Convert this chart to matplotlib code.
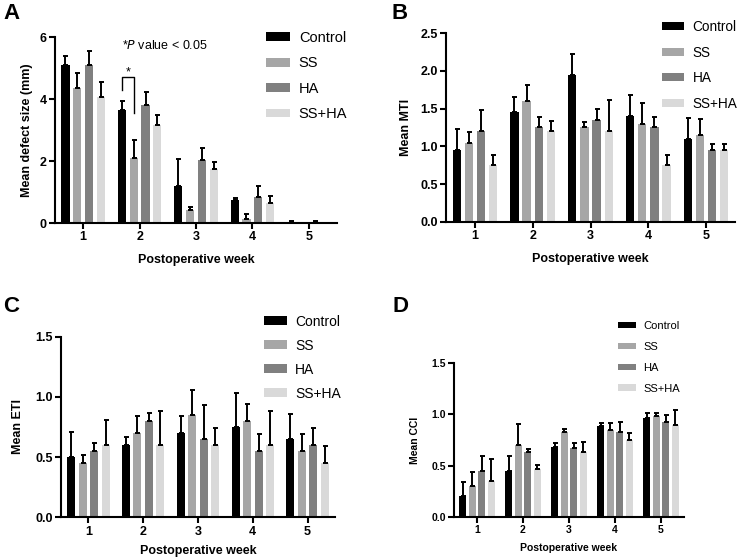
import matplotlib
matplotlib.use("Agg")
import matplotlib.pyplot as plt
import numpy as np
from matplotlib.patches import Patch

plt.rcParams['font.family'] = ['Liberation Sans', 'DejaVu Sans']

weeks = [1, 2, 3, 4, 5]
groups = ["Control", "SS", "HA", "SS+HA"]
colors = ["#000000", "#a6a6a6", "#808080", "#d9d9d9"]

# Panel A: mean defect size (mm) and SD (upper error)
a_mean = {"Control": [5.1, 3.65, 1.2, 0.73, 0.03],
          "SS": [4.35, 2.1, 0.42, 0.13, 0.0],
          "HA": [5.1, 3.8, 2.03, 0.83, 0.03],
          "SS+HA": [4.05, 3.15, 1.74, 0.64, 0.0]}
a_err = {"Control": [0.3, 0.3, 0.85, 0.08, 0.05],
         "SS": [0.5, 0.58, 0.1, 0.15, 0.0],
         "HA": [0.46, 0.44, 0.38, 0.37, 0.05],
         "SS+HA": [0.5, 0.35, 0.23, 0.22, 0.0]}

# Panel B: mean MTI
b_mean = {"Control": [0.95, 1.45, 1.95, 1.4, 1.1],
          "SS": [1.05, 1.6, 1.25, 1.3, 1.15],
          "HA": [1.2, 1.25, 1.35, 1.25, 0.95],
          "SS+HA": [0.75, 1.2, 1.2, 0.75, 0.95]}
b_err = {"Control": [0.28, 0.21, 0.28, 0.28, 0.28],
         "SS": [0.14, 0.21, 0.07, 0.28, 0.21],
         "HA": [0.28, 0.14, 0.14, 0.14, 0.08],
         "SS+HA": [0.14, 0.14, 0.42, 0.14, 0.08]}

# Panel C: mean ETI
c_mean = {"Control": [0.5, 0.6, 0.7, 0.75, 0.65],
          "SS": [0.45, 0.7, 0.85, 0.8, 0.55],
          "HA": [0.55, 0.8, 0.65, 0.55, 0.6],
          "SS+HA": [0.6, 0.6, 0.6, 0.6, 0.45]}
c_err = {"Control": [0.21, 0.07, 0.14, 0.28, 0.21],
         "SS": [0.07, 0.14, 0.21, 0.14, 0.14],
         "HA": [0.07, 0.07, 0.28, 0.14, 0.14],
         "SS+HA": [0.21, 0.28, 0.14, 0.28, 0.14]}

# Panel D: mean CCI
d_mean = {"Control": [0.2, 0.45, 0.68, 0.89, 0.97],
          "SS": [0.3, 0.7, 0.83, 0.85, 0.98],
          "HA": [0.45, 0.63, 0.67, 0.83, 0.93],
          "SS+HA": [0.35, 0.47, 0.63, 0.75, 0.9]}
d_err = {"Control": [0.14, 0.14, 0.04, 0.03, 0.04],
         "SS": [0.14, 0.21, 0.03, 0.07, 0.03],
         "HA": [0.14, 0.03, 0.05, 0.1, 0.06],
         "SS+HA": [0.21, 0.04, 0.1, 0.07, 0.14]}

W, H = 738, 559
fig = plt.figure(figsize=(W / 100, H / 100), dpi=100)

SPACING = 0.21
BARW = 0.145


def px_axes(l, r, b, t):
    return fig.add_axes([l / W, 1 - b / H, (r - l) / W, (b - t) / H])


def panel(ax, means, errs, ylim, yticks, ylabel, tick_fs, lab_fs, leg_fs,
          leg_xy, leg_sp, xpad=8, ypad=8):
    x = np.array(weeks, dtype=float)
    for i, g in enumerate(groups):
        xs = x + (i - 1.5) * SPACING
        m = np.array(means[g])
        e = np.array(errs[g])
        ax.bar(xs, m, width=BARW, color=colors[i], zorder=2)
        ax.errorbar(xs, m, yerr=[np.zeros_like(e), e], fmt="none",
                    ecolor="black", elinewidth=1.4, capsize=1.8,
                    capthick=1.4, zorder=3)
    ax.set_xlim(0.5, 5.5)
    ax.set_ylim(*ylim)
    ax.set_yticks(yticks)
    ax.set_xticks(weeks)
    ax.set_xticklabels([str(w) for w in weeks])
    for s in ["top", "right"]:
        ax.spines[s].set_visible(False)
    for s in ["left", "bottom"]:
        ax.spines[s].set_linewidth(1.5)
    ax.tick_params(axis="both", width=1.5, length=4, labelsize=tick_fs,
                   pad=2)
    for lab in ax.get_xticklabels() + ax.get_yticklabels():
        lab.set_fontweight("bold")
    ax.set_xlabel("Postoperative week", fontsize=lab_fs, fontweight="bold",
                  labelpad=xpad)
    ax.set_ylabel(ylabel, fontsize=lab_fs, fontweight="bold", labelpad=ypad)
    handles = [Patch(facecolor=c, edgecolor="none") for c in colors]
    ax.legend(handles, groups, loc="upper left",
              bbox_to_anchor=(leg_xy[0] / W, 1 - leg_xy[1] / H),
              bbox_transform=fig.transFigure, frameon=False,
              fontsize=leg_fs, borderpad=0, borderaxespad=0,
              handlelength=1.65, handleheight=0.55, handletextpad=0.6,
              labelspacing=leg_sp)


# A
axA = px_axes(55, 337, 223, 37)
panel(axA, a_mean, a_err, (0, 6), [0, 2, 4, 6], "Mean defect size (mm)",
      9, 9, 10.5, (266, 31), 0.78, xpad=8, ypad=5)
# significance bracket between Control and SS in week 2
xc = 2 - 1.5 * SPACING
xs_ = 2 - 0.5 * SPACING
axA.plot([xc, xc, xs_, xs_], [4.3, 4.71, 4.71, 3.55], color="black", lw=1.0,
         zorder=4)
axA.text((xc + xs_) / 2, 4.85, "*", ha="center", va="center", fontsize=9)
axA.text(2.45, 5.74, r"*$\it{P}$ value < 0.05", ha="center", va="center",
         fontsize=9)

# B
axB = px_axes(446, 735, 221.7, 33.3)
panel(axB, b_mean, b_err, (0, 2.5), [0, 0.5, 1.0, 1.5, 2.0, 2.5],
      "Mean MTI", 9, 9, 9.8, (662, 20), 0.85, xpad=8, ypad=6)
axB.yaxis.set_major_formatter(matplotlib.ticker.FormatStrFormatter("%.1f"))

# C
axC = px_axes(61, 335, 517.3, 336.7)
panel(axC, c_mean, c_err, (0, 1.5), [0, 0.5, 1.0, 1.5], "Mean ETI",
      9, 9, 10, (264, 314.5), 0.72, xpad=5, ypad=8)
axC.yaxis.set_major_formatter(matplotlib.ticker.FormatStrFormatter("%.1f"))

# D
axD = px_axes(454, 684, 516.7, 363.3)
panel(axD, d_mean, d_err, (0, 1.5), [0, 0.5, 1.0, 1.5], "Mean CCI",
      7.5, 7.5, 8, (618, 321), 0.98, xpad=6, ypad=8)
axD.yaxis.set_major_formatter(matplotlib.ticker.FormatStrFormatter("%.1f"))

# panel letters
for letter, (px, py) in zip("ABCD", [(3, 3), (391, 3), (3, 296), (392, 296)]):
    fig.text(px / W, 1 - py / H, letter, fontsize=16, fontweight="bold",
             ha="left", va="top")

fig.savefig("out.png", dpi=100)
